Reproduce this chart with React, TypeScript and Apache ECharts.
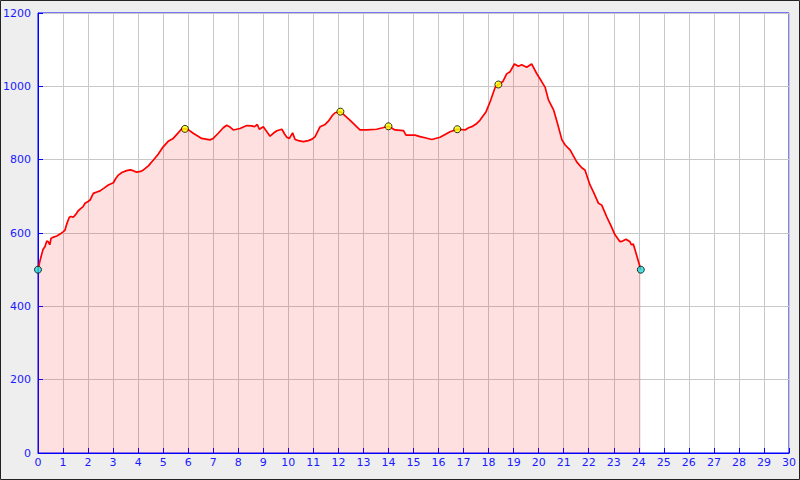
import React, { useEffect, useRef } from "react";
import * as echarts from "echarts";

const distanceKm = [0, 0.1, 0.2, 0.28, 0.35, 0.41, 0.47, 0.52, 0.59, 0.75, 0.88, 1.0, 1.08, 1.15, 1.25, 1.33, 1.41, 1.5, 1.6, 1.68, 1.8, 1.88, 2.0, 2.08, 2.21, 2.35, 2.48, 2.65, 2.81, 3.01, 3.1, 3.21, 3.35, 3.54, 3.68, 3.8, 3.94, 4.1, 4.21, 4.41, 4.61, 4.8, 5.0, 5.2, 5.4, 5.6, 5.75, 5.87, 6.0, 6.2, 6.54, 6.87, 7.0, 7.2, 7.4, 7.54, 7.65, 7.8, 8.07, 8.34, 8.54, 8.65, 8.76, 8.84, 9.0, 9.1, 9.27, 9.4, 9.54, 9.74, 9.85, 9.94, 10.04, 10.17, 10.27, 10.4, 10.6, 10.8, 10.95, 11.07, 11.27, 11.47, 11.6, 11.75, 11.87, 12.08, 12.46, 12.86, 13.13, 13.53, 13.77, 14.0, 14.26, 14.6, 14.7, 15.06, 15.26, 15.5, 15.73, 16.06, 16.3, 16.46, 16.75, 17.06, 17.2, 17.33, 17.5, 17.66, 17.9, 18.06, 18.26, 18.39, 18.57, 18.72, 18.86, 19.03, 19.19, 19.32, 19.52, 19.72, 19.92, 20.12, 20.26, 20.39, 20.6, 20.73, 20.93, 21.06, 21.26, 21.52, 21.72, 21.85, 22.05, 22.2, 22.39, 22.52, 22.72, 22.9, 23.05, 23.25, 23.35, 23.49, 23.65, 23.7, 23.78, 23.89, 24.08];

const elevationM = [500, 530, 555, 563, 578, 576, 568, 585, 588, 592, 597, 603, 608, 625, 643, 645, 643, 650, 660, 665, 672, 681, 686, 690, 708, 712, 715, 723, 731, 737, 748, 758, 765, 770, 772, 770, 766, 768, 772, 783, 799, 815, 835, 850, 858, 873, 885, 884, 882, 872, 858, 854, 858, 872, 887, 894, 890, 881, 885, 893, 892, 890, 896, 883, 890, 880, 864, 872, 879, 883, 870, 861, 858, 873, 855, 852, 849, 852, 856, 863, 890, 896, 905, 920, 928, 931, 908, 881, 881, 883, 887, 891, 881, 879, 867, 867, 863, 859, 855, 861, 870, 876, 883, 881, 887, 890, 897, 908, 931, 958, 997, 1005, 1013, 1034, 1040, 1061, 1055, 1059, 1052, 1061, 1035, 1013, 997, 963, 935, 904, 854, 840, 826, 794, 778, 772, 731, 710, 681, 676, 644, 618, 595, 576, 578, 583, 576, 568, 570, 545, 500];

const waypointKm = [5.87, 12.08, 14.0, 16.75, 18.39];
const waypointM = [884, 931, 891, 883, 1005];

const endpointKm = [0, 24.08];
const endpointM = [500, 500];

const xTicks = { min: 0, max: 30, interval: 1 };
const yTicks = { min: 0, max: 1200, interval: 200 };

export default function App() {
  const ref = useRef<HTMLDivElement>(null);

  useEffect(() => {
    if (!ref.current) return;
    const chart = echarts.init(ref.current, undefined, { renderer: "svg" });
    const blue = "#0000ff";
    const labelColor = "#1a1aff";
    const font = "DejaVu Sans";
    chart.setOption({
      animation: false,
      backgroundColor: "#eeeeee",
      graphic: [
        {
          type: "rect",
          shape: { x: 0.5, y: 0.5, width: 799, height: 479 },
          style: { fill: "none", stroke: "#222", lineWidth: 1 },
          z: 100,
        },
      ],
      grid: {
        left: 38,
        right: 11,
        top: 13,
        bottom: 27,
        containLabel: false,
        outerBoundsMode: "none",
        show: true,
        backgroundColor: "#ffffff",
        borderColor: blue,
        borderWidth: 1,
      },
      xAxis: {
        type: "value",
        min: xTicks.min,
        max: xTicks.max,
        interval: xTicks.interval,
        axisLine: { show: true, lineStyle: { color: blue, width: 1 } },
        axisTick: { show: true, inside: true, length: 5, lineStyle: { color: blue } },
        axisLabel: { color: labelColor, fontFamily: font, fontSize: 11, margin: 4, formatter: (v: number) => String(v) },
        splitLine: { show: true, lineStyle: { color: "#c8c8c8", width: 1 } },
      },
      yAxis: {
        type: "value",
        min: yTicks.min,
        max: yTicks.max,
        interval: yTicks.interval,
        axisLine: { show: true, lineStyle: { color: blue, width: 1 } },
        axisTick: { show: true, inside: true, length: 5, lineStyle: { color: blue } },
        axisLabel: { color: labelColor, fontFamily: font, fontSize: 11, margin: 7, formatter: (v: number) => String(v) },
        splitLine: { show: true, lineStyle: { color: "#c8c8c8", width: 1 } },
      },
      series: [
        {
          type: "line",
          data: distanceKm.map((d, i) => [d, elevationM[i]]),
          showSymbol: false,
          symbol: "none",
          lineStyle: { color: "#ff0000", width: 1.7 },
          areaStyle: { color: "#ff0000", opacity: 0.12 },
          z: 2,
        },
        {
          type: "scatter",
          data: waypointKm.map((d, i) => [d, waypointM[i]]),
          symbol: "circle",
          symbolSize: 7,
          itemStyle: { color: "#ffff00", borderColor: "#000", borderWidth: 1 },
          z: 3,
        },
        {
          type: "scatter",
          data: endpointKm.map((d, i) => [d, endpointM[i]]),
          symbol: "circle",
          symbolSize: 7,
          itemStyle: { color: "#22dddd", borderColor: "#000", borderWidth: 1 },
          z: 3,
        },
      ],
    });
    return () => chart.dispose();
  }, []);

  return (
    <div
      ref={ref}
      style={{ position: "absolute", left: 0, top: 0, width: 800, height: 480 }}
    />
  );
}
